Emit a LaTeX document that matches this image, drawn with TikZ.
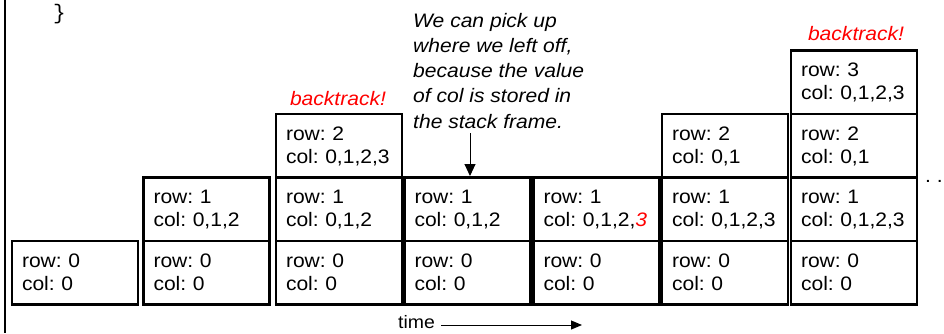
\documentclass[tikz,border=0pt]{standalone}
\usepackage{fontspec}
\setmainfont{Liberation Sans}[FakeStretch=1.08]
\newfontfamily\codefont{Liberation Mono}
\usetikzlibrary{arrows.meta}
\AtBeginDocument{\frenchspacing}
\tikzset{
  framebox/.style={draw, line width=2.5pt, minimum height=63.5pt, text width=106pt,
    text height=26.5pt, text depth=37pt,
    inner xsep=10pt, inner ysep=0pt, align=left, font=\fontsize{19.5}{23}\selectfont\frenchspacing},
  redlbl/.style={text=red, font=\fontsize{19.5}{23}\selectfont\itshape, inner sep=0pt, anchor=base},
  notetext/.style={font=\fontsize{19.5}{25.2}\selectfont\itshape\frenchspacing, align=left, inner sep=0pt, anchor=north west},
  thinarrow/.style={line width=1pt, -{Triangle[length=12pt,width=11pt]}},
  timearrow/.style={line width=1pt, -{Triangle[length=11pt,width=9pt]}},
  timelbl/.style={font=\fontsize{18}{20}\selectfont, inner sep=0pt, anchor=base west},
  frameline/.style={line width=2.5pt}
}
\begin{document}
\begin{tikzpicture}[x=1pt,y=-1pt]
\useasboundingbox (0,0) rectangle (944,333);
% left frame line
\coordinate (ftop) at (5,0);
\coordinate (fbot) at (5,333);
\draw[frameline] (ftop) -- (fbot);
% closing brace of code
\node[font=\codefont\fontsize{21}{21}\selectfont, anchor=base west, inner sep=0pt] (brace) at (53,19) {\}};
% column 1
\node[framebox] (a0) at (75,272.5) {row: 0\\col: 0};
% column 2
\node[framebox] (b0) at (206.5,272.5) {row: 0\\col: 0};
\node[framebox] (b1) at (206.5,209) {row: 1\\col: 0,1,2};
% column 3
\node[framebox] (c0) at (339,272.5) {row: 0\\col: 0};
\node[framebox] (c1) at (339,209) {row: 1\\col: 0,1,2};
\node[framebox] (c2) at (339,145.5) {row: 2\\col:~0,1,2,3};
\node[redlbl] (bt1) at (338,105) {backtrack!};
% column 4
\node[framebox] (d0) at (467.5,272.5) {row: 0\\col: 0};
\node[framebox] (d1) at (467.5,209) {row: 1\\col: 0,1,2};
% column 5
\node[framebox] (e0) at (596.5,272.5) {row: 0\\col: 0};
\node[framebox] (e1) at (596.5,209) {row: 1\\col:~0,1,2,{\color{red}\itshape 3}};
% column 6
\node[framebox] (f0) at (725,272.5) {row: 0\\col: 0};
\node[framebox] (f1) at (725,209) {row: 1\\col:~0,1,2,3};
\node[framebox] (f2) at (725,145.5) {row: 2\\col: 0,1};
% column 7
\node[framebox] (g0) at (854,272.5) {row: 0\\col: 0};
\node[framebox] (g1) at (854,209) {row: 1\\col:~0,1,2,3};
\node[framebox] (g2) at (854,145.5) {row: 2\\col: 0,1};
\node[framebox] (g3) at (854,82) {row: 3\\col:~0,1,2,3};
\node[redlbl] (bt2) at (856,40) {backtrack!};
% annotation
\node[notetext] (note) at (413,13) {We can pick up\\where we left off,\\because the value\\of col is stored in\\the stack frame.};
\coordinate (ntail) at (470,133);
\draw[thinarrow] (ntail) -- (ntail |- d1.north);
% dots
\node[font=\fontsize{19.5}{23}\selectfont, anchor=base west, inner sep=0pt] (dots) at (925,182) {. .};
% time axis
\node[timelbl] (time) at (398,328) {time};
\coordinate (tend) at (582,325);
\draw[timearrow] ([xshift=6pt]time.east |- tend) -- (tend);
\end{tikzpicture}
\end{document}
